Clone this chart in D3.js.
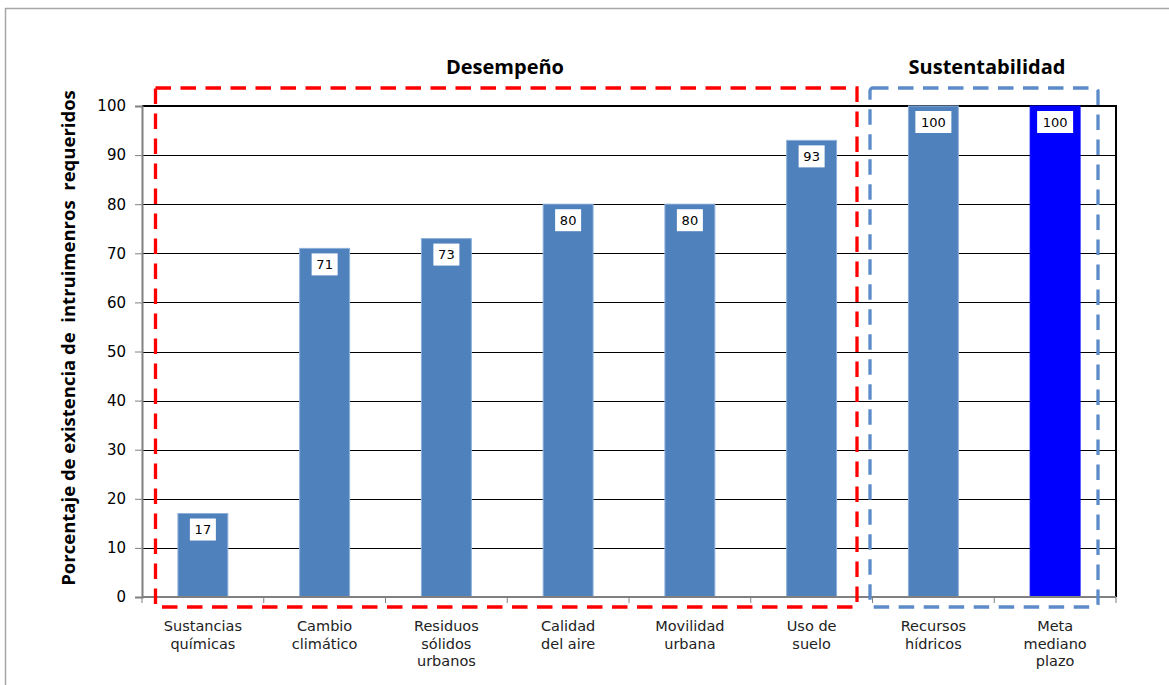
<!DOCTYPE html>
<html>
<head>
<meta charset="utf-8">
<script src="https://cdn.jsdelivr.net/npm/d3@7"></script>
<style>
  html, body { margin: 0; padding: 0; background: #fff; }
  svg { display: block; }
</style>
</head>
<body>
<svg id="chart" width="1169" height="685"></svg>
<script>
// Categories (line-broken labels) and values
const categories = [
  ["Sustancias", "químicas"],
  ["Cambio", "climático"],
  ["Residuos", "sólidos", "urbanos"],
  ["Calidad", "del aire"],
  ["Movilidad", "urbana"],
  ["Uso de", "suelo"],
  ["Recursos", "hídricos"],
  ["Meta", "mediano", "plazo"]
];
const values = [17, 71, 73, 80, 80, 93, 100, 100];
const barColors = ["#4F81BD", "#4F81BD", "#4F81BD", "#4F81BD", "#4F81BD", "#4F81BD", "#4F81BD", "#0000FF"];
const yTicks = [0, 10, 20, 30, 40, 50, 60, 70, 80, 90, 100];
// Group boxes: which categories each dashed frame encloses
const groups = [
  { title: "Desempeño", first: 0, last: 5, color: "#FF0000" },
  { title: "Sustentabilidad", first: 6, last: 7, color: "#5B8BC9" }
];
const yTitle = "Porcentaje de existencia de  intruimenros  requeridos";

const svg = d3.select("#chart");
const margin = { left: 142, top: 106, right: 1116, bottom: 597 };

const x = d3.scaleBand()
  .domain(d3.range(categories.length))
  .range([margin.left, margin.right])
  .paddingInner(0.59)
  .paddingOuter(0.295);

const y = d3.scaleLinear().domain([0, 100]).range([margin.bottom, margin.top]);

// outer frame (top and left edges)
svg.append("path")
  .attr("d", "M5.5,685 L5.5,8.5 L1169,8.5")
  .attr("fill", "none").attr("stroke", "#A6A6A6").attr("stroke-width", 1.5);

// horizontal gridlines
svg.append("g").selectAll("line").data(yTicks.filter(d => d > 0 && d < 100)).join("line")
  .attr("x1", margin.left).attr("x2", margin.right)
  .attr("y1", d => Math.round(y(d)) + 0.5).attr("y2", d => Math.round(y(d)) + 0.5)
  .attr("stroke", "#000").attr("stroke-width", 1);

// top and right borders of the plot area
svg.append("path")
  .attr("d", `M${margin.left},${y(100)} L${margin.right},${y(100)} L${margin.right},${y(0)}`)
  .attr("fill", "none").attr("stroke", "#000").attr("stroke-width", 2);

// bars
svg.append("g").selectAll("rect").data(values).join("rect")
  .attr("x", (d, i) => x(i))
  .attr("width", x.bandwidth())
  .attr("y", d => y(d))
  .attr("height", d => y(0) - y(d))
  .attr("fill", (d, i) => barColors[i])
  .attr("stroke", (d, i) => i === 7 ? "#0000FF" : "#8DB0DA")
  .attr("stroke-width", 1);

// value labels: white boxes near the top of each bar
const lbl = svg.append("g").selectAll("g").data(values).join("g")
  .attr("transform", (d, i) => `translate(${x(i) + x.bandwidth() / 2},${y(d) + 16})`);
lbl.append("rect")
  .attr("x", d => d >= 100 ? -18 : -13)
  .attr("width", d => d >= 100 ? 36 : 26)
  .attr("y", -11).attr("height", 22)
  .attr("fill", "#fff");
lbl.append("text")
  .attr("text-anchor", "middle").attr("dy", "0.36em")
  .attr("font-family", "DejaVu Sans, Verdana, sans-serif").attr("font-size", 13)
  .attr("fill", "#000")
  .text(d => d);

// y axis
const yAxis = svg.append("g")
  .attr("transform", `translate(${margin.left},0)`)
  .call(d3.axisLeft(y).tickValues(yTicks).tickSize(7).tickPadding(9));
yAxis.select(".domain").attr("stroke", "#808080").attr("stroke-width", 2);
yAxis.selectAll(".tick line").attr("stroke", "#808080").attr("stroke-width", 1);
yAxis.selectAll(".tick text")
  .attr("font-family", "DejaVu Sans, Verdana, sans-serif").attr("font-size", 15).attr("fill", "#000");

// x axis line with separators between categories
const step = x.step();
const xg = svg.append("g");
xg.append("line")
  .attr("x1", margin.left).attr("x2", margin.right)
  .attr("y1", y(0)).attr("y2", y(0))
  .attr("stroke", "#808080").attr("stroke-width", 2);
xg.selectAll("line.sep").data(d3.range(categories.length + 1)).join("line")
  .attr("class", "sep")
  .attr("x1", i => margin.left + i * step).attr("x2", i => margin.left + i * step)
  .attr("y1", y(0)).attr("y2", y(0) + 6)
  .attr("stroke", "#808080").attr("stroke-width", 1);

// category labels
const xl = xg.selectAll("text.cat").data(categories).join("text")
  .attr("class", "cat")
  .attr("text-anchor", "middle")
  .attr("font-family", "DejaVu Sans, Verdana, sans-serif").attr("font-size", 14.5)
  .attr("fill", "#222")
  .attr("transform", (d, i) => `translate(${x(i) + x.bandwidth() / 2},631)`);
xl.selectAll("tspan").data(d => d).join("tspan")
  .attr("x", 0).attr("dy", (d, j) => j === 0 ? 0 : 17.5)
  .text(d => d);

// dashed group frames and their titles
const frameTop = 88, frameBottom = 607;
const frameEdges = [[155.5, 857], [870, 1098]];
groups.forEach((g, k) => {
  const [l, r] = frameEdges[k];
  svg.append("rect")
    .attr("x", l).attr("y", frameTop)
    .attr("width", r - l).attr("height", frameBottom - frameTop)
    .attr("rx", k === 1 ? 3 : 0)
    .attr("fill", "none").attr("stroke", g.color)
    .attr("stroke-width", 3.3).attr("stroke-dasharray", "15.5,9.5");
});
const titleX = [505, 987];
groups.forEach((g, k) => {
  svg.append("text")
    .attr("x", titleX[k]).attr("y", 74)
    .attr("text-anchor", "middle")
    .attr("font-family", "Open Sans, sans-serif").attr("font-weight", 700).attr("font-size", 20)
    .attr("fill", "#000")
    .text(g.title);
});

// y axis title
svg.append("text")
  .attr("transform", "translate(75,338) rotate(-90)")
  .attr("text-anchor", "middle")
  .attr("font-family", "Open Sans, sans-serif").attr("font-weight", 700).attr("font-size", 18.5)
  .attr("fill", "#000")
  .attr("xml:space", "preserve")
  .style("white-space", "pre")
  .text(yTitle);
</script>
</body>
</html>
